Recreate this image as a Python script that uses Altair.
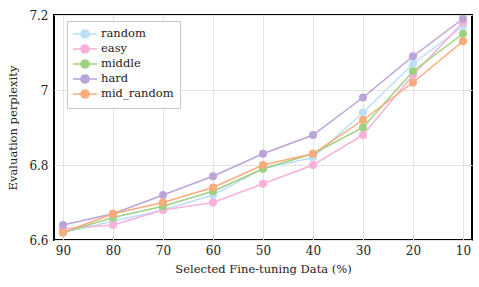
import math
import altair as alt
import pandas as pd

x_vals = [90, 80, 70, 60, 50, 40, 30, 20, 10]
series_names = ["random", "easy", "middle", "hard", "mid_random"]
random_v = [6.62, 6.65, 6.68, 6.72, 6.79, 6.82, 6.94, 7.07, 7.17]
easy_v = [6.63, 6.64, 6.68, 6.70, 6.75, 6.80, 6.88, 7.04, 7.18]
middle_v = [6.62, 6.66, 6.69, 6.73, 6.79, 6.83, 6.90, 7.05, 7.15]
hard_v = [6.64, 6.67, 6.72, 6.77, 6.83, 6.88, 6.98, 7.09, 7.19]
mid_random_v = [6.62, 6.67, 6.70, 6.74, 6.80, 6.83, 6.92, 7.02, 7.13]
colors = ["#BDE0F7", "#F8B1DA", "#9FD183", "#BBA4DA", "#F9AB7C"]

values = [random_v, easy_v, middle_v, hard_v, mid_random_v]
rows = []
for i, (name, vals) in enumerate(zip(series_names, values)):
    for x, v in zip(x_vals, vals):
        rows.append({"x": x, "y": v, "series": name, "order": i})
df = pd.DataFrame(rows)

font = "DejaVu Serif"

# legend glyph: a short line with a filled circle (polygon approximation)
r = 0.67
n = 24
circ = "M" + "L".join(
    f"{r * math.cos(2 * math.pi * k / n):.3f},{r * math.sin(2 * math.pi * k / n):.3f}"
    for k in range(n)
) + "Z"
sym_path = "M-2,0H2" + circ

color_scale = alt.Scale(domain=series_names, range=colors)

x_enc = alt.X("x:Q", scale=alt.Scale(domain=[91.8, 8.2], nice=False, zero=False),
              axis=alt.Axis(values=x_vals, title="Selected Fine-tuning Data (%)",
                            grid=True, ticks=False, domain=False, labelPadding=5,
                            titlePadding=7))
y_enc = alt.Y("y:Q", scale=alt.Scale(domain=[6.6, 7.2], nice=False, zero=False),
              axis=alt.Axis(values=[6.6, 6.8, 7.0, 7.2], format="~g",
                            title="Evaluation perplexity", grid=True, ticks=False,
                            domain=False, labelPadding=6, titlePadding=10))

legend = alt.Legend(
    title=None, orient="none", legendX=13, legendY=6,
    symbolType=sym_path, symbolSize=144, symbolStrokeWidth=1.5,
    labelFont=font, labelFontSize=11.5, labelColor="#222",
    rowPadding=-2.5, labelOffset=9, symbolOffset=5,
    padding=6, strokeColor="#c8c8c8", fillColor="white",
    cornerRadius=0, symbolOpacity=1,
)

color_enc = alt.Color("series:N", scale=color_scale, sort=series_names, legend=legend)

lines = alt.Chart(df).mark_line(strokeWidth=1.5).encode(
    x=x_enc, y=y_enc,
    color=color_enc,
    detail="series:N",
    order="order:Q",
)

points = alt.Chart(df).mark_point(filled=True, opacity=1, size=65).encode(
    x="x:Q", y="y:Q",
    color=color_enc,
    order="order:Q",
)

chart = alt.layer(lines, points).properties(
    width=418, height=225,
    autosize=alt.AutoSizeParams(type="none"),
    padding={"left": 54, "top": 15, "right": 7, "bottom": 47},
    background="white",
).configure_view(stroke="black", strokeWidth=2).configure_axis(
    labelFont=font, titleFont=font, labelFontSize=12, titleFontSize=11.5,
    labelColor="#222", titleColor="#222", titleFontWeight="normal",
    gridColor="#e3e3e3", gridWidth=1,
)

chart.save("out.html", embed_options={"renderer": "svg", "actions": False})
